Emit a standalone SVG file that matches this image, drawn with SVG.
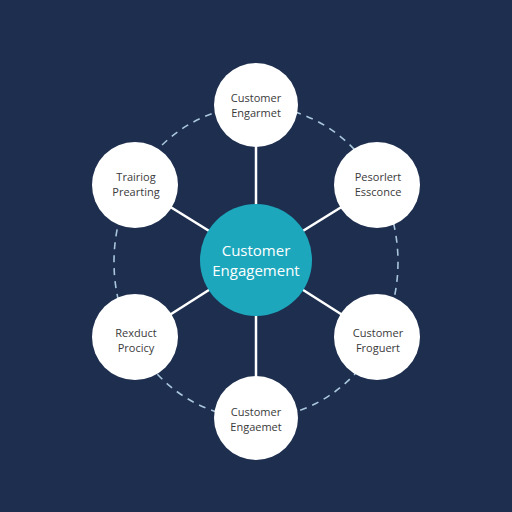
<svg xmlns="http://www.w3.org/2000/svg" width="512" height="512" viewBox="0 0 512 512">
<style>
.bg{fill:#1d2e4e}
.ring{fill:none;stroke:#a9c6dc;stroke-width:1.6;stroke-dasharray:7 6}
.spoke{stroke:#ffffff;stroke-width:2.5}
.node{fill:#ffffff}
.hub{fill:#1ca7bd}
.lbl{font-family:"Open Sans","Liberation Sans",sans-serif;font-size:11px;fill:#3a3a3a;text-anchor:middle}
.hlbl{font-family:"Open Sans","Liberation Sans",sans-serif;font-size:15px;fill:#ffffff;text-anchor:middle}
</style>
<rect class="bg" x="0" y="0" width="512" height="512"/>
<g id="connectors">
<ellipse class="ring" cx="256" cy="262" rx="142" ry="156"/>
<line class="spoke" x1="256" y1="260" x2="256" y2="105"/>
<line class="spoke" x1="256" y1="260" x2="256" y2="418"/>
<line class="spoke" x1="256" y1="260" x2="135" y2="185"/>
<line class="spoke" x1="256" y1="260" x2="377" y2="185"/>
<line class="spoke" x1="256" y1="260" x2="135" y2="337"/>
<line class="spoke" x1="256" y1="260" x2="377" y2="337"/>
</g>
<g id="hub">
<circle class="hub" cx="256" cy="260" r="56"/>
<text class="hlbl" x="256" y="256">Customer</text>
<text class="hlbl" x="256" y="276">Engagement</text>
</g>
<g id="node-top">
<circle class="node" cx="256" cy="105" r="42"/>
<text class="lbl" x="256" y="102">Customer</text>
<text class="lbl" x="256" y="117">Engarmet</text>
</g>
<g id="node-upper-left">
<circle class="node" cx="135" cy="185" r="43"/>
<text class="lbl" x="136" y="181">Trairiog</text>
<text class="lbl" x="136" y="196">Prearting</text>
</g>
<g id="node-upper-right">
<circle class="node" cx="377" cy="185" r="43"/>
<text class="lbl" x="378" y="181">Pesorlert</text>
<text class="lbl" x="378" y="196">Essconce</text>
</g>
<g id="node-lower-left">
<circle class="node" cx="135" cy="337" r="43"/>
<text class="lbl" x="136" y="337">Rexduct</text>
<text class="lbl" x="136" y="352">Procicy</text>
</g>
<g id="node-lower-right">
<circle class="node" cx="377" cy="337" r="43"/>
<text class="lbl" x="378" y="337">Customer</text>
<text class="lbl" x="378" y="352">Froguert</text>
</g>
<g id="node-bottom">
<circle class="node" cx="256" cy="418" r="42"/>
<text class="lbl" x="256" y="416">Customer</text>
<text class="lbl" x="256" y="431">Engaemet</text>
</g>
</svg>
